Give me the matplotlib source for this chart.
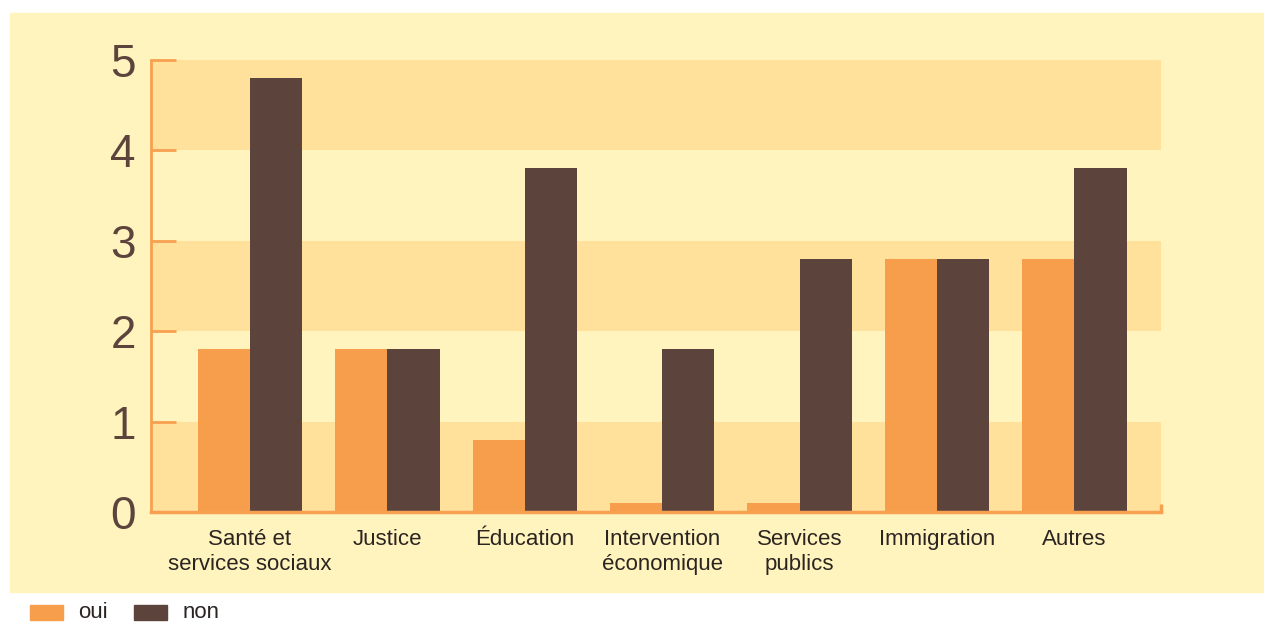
import matplotlib.pyplot as plt
from matplotlib.patches import Rectangle
import numpy as np

categories = ['Santé et\nservices sociaux', 'Justice', 'Éducation',
              'Intervention\néconomique', 'Services\npublics', 'Immigration', 'Autres']
oui = [1.8, 1.8, 0.8, 0.1, 0.1, 2.8, 2.8]
non = [4.8, 1.8, 3.8, 1.8, 2.8, 2.8, 3.8]
yticks = [0, 1, 2, 3, 4, 5]

c_oui = '#F79E4C'
c_non = '#5C443D'
c_bg = '#FFF3BE'
c_band = '#FFE19C'
c_axis = '#F7A04F'

plt.rcParams['font.family'] = ['Liberation Sans', 'DejaVu Sans']

fig = plt.figure(figsize=(12.64, 6.23), dpi=100)
# cream panel behind the chart
fig.patches.append(Rectangle((10/1264, 1-592/623), 1254/1264, 579/623,
                             transform=fig.transFigure, color=c_bg, zorder=-5))

ax = fig.add_axes([151/1264, 1-512/623, 1010/1264, 452/623])
ax.set_facecolor(c_bg)
for k in range(0, 5, 2):
    ax.axhspan(k, k+1, color=c_band, lw=0, zorder=0)

x = np.arange(len(categories))
w = 0.38
ax.bar(x - w/2, oui, w, color=c_oui, zorder=2, label='oui')
ax.bar(x + w/2, non, w, color=c_non, zorder=2, label='non')

ax.set_xlim(-0.72, 6.63)
ax.set_ylim(0, 5)
for s in ['top', 'right']:
    ax.spines[s].set_visible(False)
ax.spines['left'].set_color(c_axis)
ax.spines['left'].set_linewidth(2)
ax.spines['bottom'].set_color(c_axis)
ax.spines['bottom'].set_linewidth(2.5)
ax.spines['bottom'].set_zorder(3)
ax.vlines(6.63, 0, 0.09, color=c_axis, lw=2.5, clip_on=False, zorder=3)

ax.set_yticks(yticks)
ax.tick_params(axis='y', direction='in', length=18, width=2, color=c_axis,
               labelsize=33, labelcolor='#5C443D', pad=11)
ax.set_xticks(x)
ax.set_xticklabels(categories, linespacing=1.3)
ax.tick_params(axis='x', length=0, labelsize=16, labelcolor='#2B2522', pad=12)

# legend below the panel
fig.patches.append(Rectangle((30/1264, 1-620/623), 33/1264, 15/623,
                             transform=fig.transFigure, color=c_oui))
fig.text(78/1264, 1-612/623, 'oui', fontsize=16, color='#2B2522', va='center')
fig.patches.append(Rectangle((134/1264, 1-620/623), 33/1264, 15/623,
                             transform=fig.transFigure, color=c_non))
fig.text(183/1264, 1-612/623, 'non', fontsize=16, color='#2B2522', va='center')

fig.savefig('out.png', dpi=100)
